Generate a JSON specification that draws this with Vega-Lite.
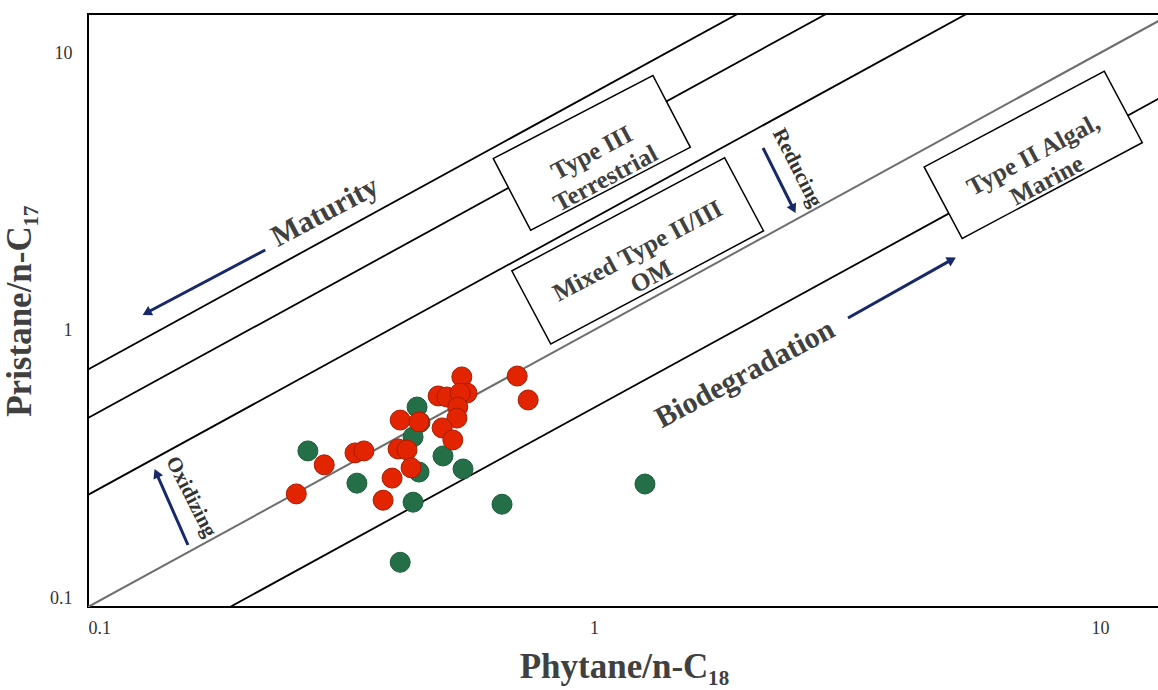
{
  "$schema": "https://vega.github.io/schema/vega-lite/v6.json",
  "width": 1072,
  "height": 593,
  "autosize": "none",
  "padding": {"left": 88, "top": 14, "right": 0, "bottom": 83},
  "background": "white",
  "config": {
    "view": {"stroke": "black", "strokeWidth": 2},
    "font": "Liberation Serif"
  },
  "datasets": {
    "lines": [
      {"kind": "boundary", "x": 0.05, "y": 0.36, "x2": 20, "y2": 144},
      {"kind": "boundary", "x": 0.05, "y": 0.2405, "x2": 20, "y2": 96.2},
      {"kind": "boundary", "x": 0.05, "y": 0.127, "x2": 20, "y2": 50.8},
      {"kind": "boundary", "x": 0.05, "y": 0.0262, "x2": 40, "y2": 20.96},
      {"kind": "Pr/Ph = 1", "x": 0.05, "y": 0.05, "x2": 20, "y2": 20}
    ],
    "boxes": [
      {"box": "terrestrial", "label": "Type III\nTerrestrial", "x": 0.99, "y": 4.36},
      {"box": "mixed", "label": "Mixed Type II/III\nOM", "x": 1.22, "y": 1.93},
      {"box": "marine", "label": "Type II Algal,\nMarine", "x": 7.38, "y": 4.29}
    ],
    "notes": [
      {"label": "Maturity", "x": 0.294, "y": 2.667},
      {"label": "Biodegradation", "x": 1.988, "y": 0.694},
      {"label": "Oxidizing", "x": 0.1598, "y": 0.2495},
      {"label": "Reducing", "x": 2.519, "y": 3.845}
    ],
    "arrows": [
      {"name": "Maturity", "x": 0.224, "y": 1.945, "x2": 0.1314, "y2": 1.161},
      {"name": "Biodegradation", "x": 3.177, "y": 1.105, "x2": 5.066, "y2": 1.784},
      {"name": "Oxidizing", "x": 0.1576, "y": 0.1674, "x2": 0.1369, "y2": 0.3006},
      {"name": "Reducing", "x": 2.158, "y": 4.54, "x2": 2.471, "y2": 2.768}
    ],
    "heads": [
      {"name": "Maturity", "x": 0.1314, "y": 1.161},
      {"name": "Biodegradation", "x": 5.066, "y": 1.784},
      {"name": "Oxidizing", "x": 0.1369, "y": 0.3006},
      {"name": "Reducing", "x": 2.471, "y": 2.768}
    ],
    "samples": [
      {"group": "B", "x": 0.272, "y": 0.366},
      {"group": "B", "x": 0.340, "y": 0.280},
      {"group": "B", "x": 0.453, "y": 0.464},
      {"group": "B", "x": 0.447, "y": 0.527},
      {"group": "B", "x": 0.439, "y": 0.411},
      {"group": "B", "x": 0.451, "y": 0.307},
      {"group": "B", "x": 0.439, "y": 0.239},
      {"group": "B", "x": 0.503, "y": 0.351},
      {"group": "B", "x": 0.551, "y": 0.315},
      {"group": "B", "x": 0.658, "y": 0.235},
      {"group": "B", "x": 0.414, "y": 0.145},
      {"group": "B", "x": 1.261, "y": 0.278},
      {"group": "A", "x": 0.258, "y": 0.256},
      {"group": "A", "x": 0.293, "y": 0.326},
      {"group": "A", "x": 0.337, "y": 0.360},
      {"group": "A", "x": 0.351, "y": 0.366},
      {"group": "A", "x": 0.383, "y": 0.243},
      {"group": "A", "x": 0.399, "y": 0.292},
      {"group": "A", "x": 0.410, "y": 0.372},
      {"group": "A", "x": 0.427, "y": 0.369},
      {"group": "A", "x": 0.435, "y": 0.318},
      {"group": "A", "x": 0.414, "y": 0.473},
      {"group": "A", "x": 0.451, "y": 0.466},
      {"group": "A", "x": 0.492, "y": 0.578},
      {"group": "A", "x": 0.512, "y": 0.573},
      {"group": "A", "x": 0.548, "y": 0.677},
      {"group": "A", "x": 0.561, "y": 0.592},
      {"group": "A", "x": 0.544, "y": 0.592},
      {"group": "A", "x": 0.538, "y": 0.527},
      {"group": "A", "x": 0.536, "y": 0.481},
      {"group": "A", "x": 0.501, "y": 0.443},
      {"group": "A", "x": 0.526, "y": 0.401},
      {"group": "A", "x": 0.705, "y": 0.682},
      {"group": "A", "x": 0.741, "y": 0.559}
    ]
  },
  "encoding": {
    "x": {
      "field": "x",
      "type": "quantitative",
      "scale": {"type": "log", "domain": [0.1, 13.14], "nice": false, "zero": false},
      "axis": {
        "values": [0.1, 1, 10],
        "format": "~g",
        "ticks": false,
        "tickSize": 0,
        "domain": false,
        "grid": false,
        "labelFont": "Liberation Serif",
        "labelFontSize": 18,
        "labelColor": "#333333",
        "labelPadding": 12,
        "title": "Phytane/n-C₁₈",
        "titleFont": "Liberation Serif",
        "titleFontSize": 35,
        "titleFontWeight": "bold",
        "titleColor": "#404040",
        "titlePadding": 12
      }
    },
    "y": {
      "field": "y",
      "type": "quantitative",
      "scale": {"type": "log", "domain": [0.1, 13.83], "nice": false, "zero": false},
      "axis": {
        "values": [0.1, 1, 10],
        "format": "~g",
        "ticks": false,
        "tickSize": 0,
        "domain": false,
        "grid": false,
        "labelFlush": true,
        "labelFont": "Liberation Serif",
        "labelFontSize": 18,
        "labelColor": "#333333",
        "labelPadding": 16,
        "title": "Pristane/n-C₁₇",
        "titleFont": "Liberation Serif",
        "titleFontSize": 35,
        "titleFontWeight": "bold",
        "titleColor": "#404040",
        "titlePadding": 12
      }
    }
  },
  "layer": [
    {
      "data": {"name": "lines"},
      "transform": [{"filter": "datum.kind == 'boundary'"}],
      "mark": {"type": "rule", "clip": true, "color": "black", "strokeWidth": 1.8},
      "encoding": {"x2": {"field": "x2"}, "y2": {"field": "y2"}}
    },
    {
      "data": {"name": "lines"},
      "transform": [{"filter": "datum.kind == 'Pr/Ph = 1'"}],
      "mark": {"type": "rule", "clip": true, "color": "#6e6e6e", "strokeWidth": 2},
      "encoding": {"x2": {"field": "x2"}, "y2": {"field": "y2"}}
    },
    {
      "data": {"name": "boxes"},
      "transform": [{"filter": "datum.box == 'terrestrial'"}],
      "mark": {"type": "point", "shape": "M-1,-0.45L1,-0.45L1,0.45L-1,0.45Z", "size": 32400, "angle": -27.5, "filled": true, "fill": "white", "stroke": "black", "strokeWidth": 1.5, "opacity": 1}
    },
    {
      "data": {"name": "boxes"},
      "transform": [{"filter": "datum.box == 'mixed'"}],
      "mark": {"type": "point", "shape": "M-1,-0.344L1,-0.344L1,0.344L-1,0.344Z", "size": 58081, "angle": -28, "filled": true, "fill": "white", "stroke": "black", "strokeWidth": 1.5, "opacity": 1}
    },
    {
      "data": {"name": "boxes"},
      "transform": [{"filter": "datum.box == 'marine'"}],
      "mark": {"type": "point", "shape": "M-1,-0.397L1,-0.397L1,0.397L-1,0.397Z", "size": 41616, "angle": -28, "filled": true, "fill": "white", "stroke": "black", "strokeWidth": 1.5, "opacity": 1}
    },
    {
      "data": {"name": "boxes"},
      "mark": {"type": "text", "angle": -28, "font": "Liberation Serif", "fontWeight": "bold", "fontSize": 25, "color": "#404040", "align": "center", "baseline": "middle", "lineBreak": "\n", "lineHeight": 29},
      "encoding": {"text": {"field": "label"}}
    },
    {
      "data": {"name": "notes"},
      "transform": [{"filter": "datum.label == 'Maturity' || datum.label == 'Biodegradation'"}],
      "mark": {"type": "text", "angle": -28, "font": "Liberation Serif", "fontWeight": "bold", "fontSize": 30, "color": "#404040", "align": "center", "baseline": "middle"},
      "encoding": {"text": {"field": "label"}}
    },
    {
      "data": {"name": "notes"},
      "transform": [{"filter": "datum.label == 'Oxidizing' || datum.label == 'Reducing'"}],
      "mark": {"type": "text", "angle": 63, "font": "Liberation Serif", "fontWeight": "bold", "fontSize": 21, "color": "#333333", "align": "center", "baseline": "middle"},
      "encoding": {"text": {"field": "label"}}
    },
    {
      "data": {"name": "arrows"},
      "mark": {"type": "rule", "color": "#17286b", "strokeWidth": 3},
      "encoding": {"x2": {"field": "x2"}, "y2": {"field": "y2"}}
    },
    {
      "data": {"name": "heads"},
      "transform": [{"filter": "datum.name == 'Maturity'"}],
      "mark": {"type": "point", "shape": "triangle", "size": 110, "angle": -118, "filled": true, "color": "#17286b", "opacity": 1}
    },
    {
      "data": {"name": "heads"},
      "transform": [{"filter": "datum.name == 'Biodegradation'"}],
      "mark": {"type": "point", "shape": "triangle", "size": 110, "angle": 61, "filled": true, "color": "#17286b", "opacity": 1}
    },
    {
      "data": {"name": "heads"},
      "transform": [{"filter": "datum.name == 'Oxidizing'"}],
      "mark": {"type": "point", "shape": "triangle", "size": 110, "angle": -24, "filled": true, "color": "#17286b", "opacity": 1}
    },
    {
      "data": {"name": "heads"},
      "transform": [{"filter": "datum.name == 'Reducing'"}],
      "mark": {"type": "point", "shape": "triangle", "size": 110, "angle": 153, "filled": true, "color": "#17286b", "opacity": 1}
    },
    {
      "data": {"name": "samples"},
      "mark": {"type": "point", "shape": "circle", "size": 400, "filled": true, "strokeWidth": 1, "opacity": 1},
      "encoding": {
        "fill": {"field": "group", "type": "nominal", "scale": {"domain": ["A", "B"], "range": ["#e22500", "#246f48"]}, "legend": null},
        "stroke": {"field": "group", "type": "nominal", "scale": {"domain": ["A", "B"], "range": ["#a81c00", "#1d5c3b"]}, "legend": null}
      }
    }
  ]
}
